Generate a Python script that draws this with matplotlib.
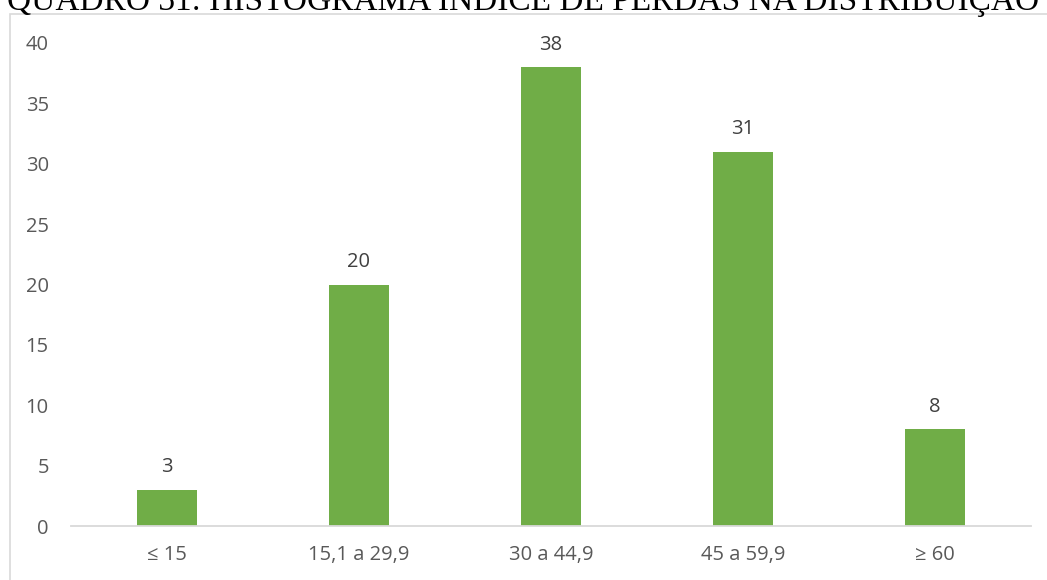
import matplotlib
matplotlib.use("Agg")
import matplotlib.pyplot as plt
from matplotlib.patches import Rectangle

categories = ["≤ 15", "15,1 a 29,9", "30 a 44,9", "45 a 59,9", "≥ 60"]
values = [3, 20, 38, 31, 8]

fig = plt.figure(figsize=(10.47, 5.8), dpi=100)
ax = fig.add_axes([71 / 1047, 1 - 526 / 580, 960 / 1047, 483 / 580])

x = list(range(len(categories)))
ax.bar(x, values, width=0.3125, color="#70ad47", zorder=2)
for xi, v in zip(x, values):
    ax.annotate(str(v), (xi, v), xytext=(0, 9), textcoords="offset points",
                ha="center", va="bottom", fontsize=14.5, color="#404040",
                family=["Open Sans", "DejaVu Sans"])

ax.set_xlim(-0.5, 4.5)
ax.set_ylim(0, 40)
ax.set_yticks(range(0, 41, 5))
ax.set_xticks(x)
ax.set_xticklabels(categories)
for s in ["top", "right", "left"]:
    ax.spines[s].set_visible(False)
ax.spines["bottom"].set_color("#d9d9d9")
ax.spines["bottom"].set_linewidth(1.3)
ax.tick_params(length=0, labelsize=14.5, labelcolor="#595959")
ax.tick_params(axis="y", pad=16)
ax.tick_params(axis="x", pad=14)
for lab in ax.get_xticklabels() + ax.get_yticklabels():
    lab.set_family(["Open Sans", "DejaVu Sans"])

# border round the chart area
fig.patches.append(Rectangle((10 / 1047, -0.1), 1.2, 1 - 14 / 580 + 0.1,
                             transform=fig.transFigure, fill=False,
                             edgecolor="#d9d9d9", linewidth=1.2))

fig.text(0.5, 1 - 10 / 580, "QUADRO 31: HISTOGRAMA ÍNDICE DE PERDAS NA DISTRIBUIÇÃO",
         ha="center", va="baseline", fontsize=24, family="Liberation Serif", color="black")

fig.savefig("out.png", dpi=100)
